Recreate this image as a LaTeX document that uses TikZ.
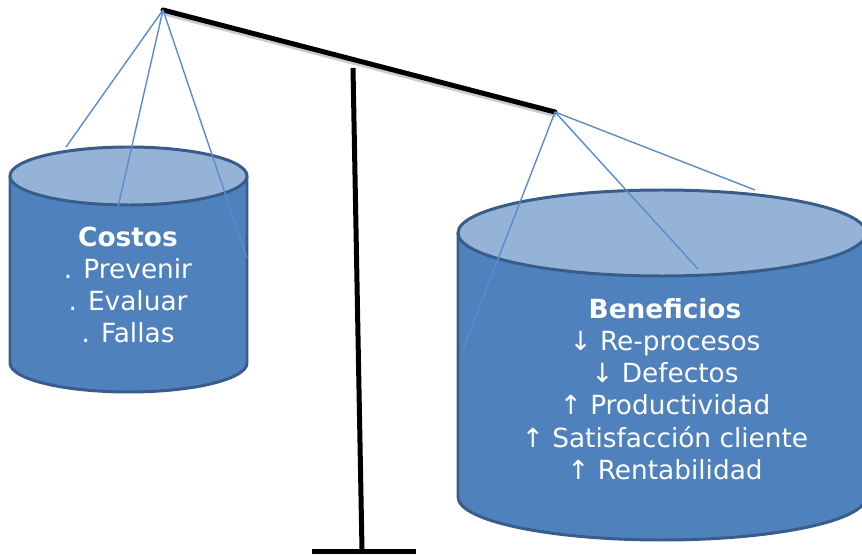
\documentclass[tikz,border=0pt]{standalone}
\usepackage{fontspec}
\setmainfont{DejaVu Sans}
\usetikzlibrary{positioning,calc}

\definecolor{cuerpo}{HTML}{4F81BD}
\definecolor{tapa}{HTML}{95B3D7}
\definecolor{borde}{HTML}{385D8A}
\definecolor{hilo}{HTML}{5B8CC9}

\begin{document}
\begin{tikzpicture}[
        x=0.02cm, y=0.02cm,
        barra/.style={line width=0.1cm, draw=black},
        cuerpobox/.style={fill=cuerpo, draw=borde, line width=1.7pt},
        tapabox/.style={fill=tapa, draw=borde, line width=1.7pt},
        cuerda/.style={draw=hilo, line width=0.8pt},
        texto/.style={align=center, text=white, font=\fontsize{15}{18.3}\selectfont}
    ]
    \clip (0,0) rectangle (862,555);

    % balanza
    \coordinate (pivoteA) at (163,545);
    \coordinate (pivoteB) at (555,443);
    \coordinate (posteA) at (353,487);
    \coordinate (posteB) at (362,5);
    \coordinate (baseA) at (312,4);
    \coordinate (baseB) at (416,4);
    \draw[barra] (posteA) -- (posteB);
    \draw[barra] (baseA) -- (baseB);
    \draw[black!20, line width=0.06cm] ($(pivoteA)+(1,-4)$) -- ($(pivoteB)+(1,-4)$);
    \draw[barra, line cap=round] (pivoteA) -- (pivoteB);

    % barril izquierdo
    \draw[cuerpobox] (10,379) -- (10,192)
        arc[start angle=180, end angle=360, x radius=118.5, y radius=29] -- (247,379);
    \draw[tapabox] (128.5,379) ellipse[x radius=118.5, y radius=29];
    \node[texto] (costos) at (128,270) {\textbf{Costos}\\. Prevenir\\. Evaluar\\. Fallas};

    % barril derecho
    \draw[cuerpobox] (458,322) -- (458,58)
        arc[start angle=180, end angle=360, x radius=204, y radius=43] -- (866,322);
    \draw[tapabox] (662,322) ellipse[x radius=204, y radius=43];
    \node[texto] (beneficios) at (665,166) {\textbf{Beneficios}\\↓ Re-procesos\\↓ Defectos\\↑ Productividad\\↑ Satisfacción cliente\\↑ Rentabilidad};

    % cuerdas
    \coordinate (cuerdaA1) at (66,408);
    \coordinate (cuerdaA2) at (118,348);
    \coordinate (cuerdaA3) at (247,297);
    \coordinate (cuerdaB1) at (460,198);
    \coordinate (cuerdaB2) at (698,286);
    \coordinate (cuerdaB3) at (755,365);
    \foreach \c in {A1,A2,A3} \draw[cuerda] (pivoteA) -- (cuerda\c);
    \foreach \c in {B1,B2,B3} \draw[cuerda] (pivoteB) -- (cuerda\c);
\end{tikzpicture}
\end{document}
